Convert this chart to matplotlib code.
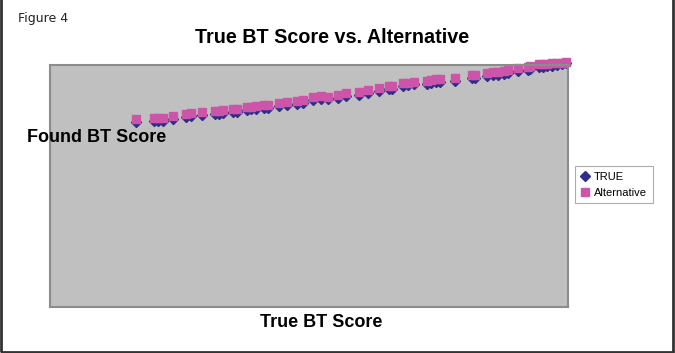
import matplotlib.pyplot as plt
from matplotlib.patches import Rectangle

# true BT score (x) and found score for both series
true_bt = [16.6, 20.1, 20.8, 21.8, 23.7, 26.3, 27.2, 29.3, 31.9, 32.6,
           33.4, 35.3, 36.1, 38.0, 38.8, 39.8, 41.3, 42.1, 44.2, 45.8,
           47.7, 48.8, 50.8, 52.3, 53.7, 55.6, 57.1, 59.7, 61.4, 63.5,
           65.4, 66.0, 68.1, 69.1, 70.3, 72.8, 73.6, 74.5, 75.3, 78.2,
           81.5, 82.0, 84.4, 85.5, 86.5, 87.6, 88.4, 90.3, 92.3, 92.7,
           94.4, 95.2, 95.9, 96.9, 97.9, 98.8, 99.6]
found_true = [76.4, 76.9, 76.8, 76.9, 77.6, 78.6, 79.0, 79.4, 79.8, 79.7,
              80.2, 80.6, 80.5, 81.4, 81.9, 81.9, 82.3, 82.2, 83.1, 83.5,
              83.9, 84.3, 85.6, 86.0, 85.8, 86.4, 87.2, 87.6, 88.5, 89.3,
              90.1, 90.0, 91.4, 91.8, 92.2, 92.2, 92.6, 93.0, 93.0, 93.4,
              94.7, 94.6, 95.5, 95.9, 95.8, 96.3, 96.7, 97.6, 98.0, 98.4,
              99.2, 99.2, 99.6, 99.6, 99.9, 100.2, 100.6]
found_alt = [77.7, 78.1, 78.1, 78.1, 78.9, 79.8, 80.2, 80.6, 81.0, 81.0,
             81.4, 81.8, 81.8, 82.6, 82.6, 83.1, 83.5, 83.5, 84.3, 84.7,
             85.1, 85.5, 86.8, 87.2, 86.8, 87.6, 88.4, 88.8, 89.7, 90.5,
             91.3, 91.3, 92.6, 92.6, 93.0, 93.4, 93.8, 94.2, 94.2, 94.6,
             95.9, 95.9, 96.7, 97.1, 97.1, 97.5, 97.9, 98.8, 99.2, 99.6,
             100.4, 100.4, 100.4, 100.8, 100.8, 100.8, 101.2]

fig = plt.figure(figsize=(6.75, 3.53), dpi=100)
fig.patch.set_facecolor('white')
fig.patches.append(Rectangle((0.002, 0.004), 0.995, 1.2, transform=fig.transFigure,
                             fill=False, edgecolor='#333333', linewidth=2))

ax = fig.add_axes([0.074, 0.130, 0.7674, 0.686])
ax.set_facecolor('#C0C0C0')
for s in ax.spines.values():
    s.set_color('#8C8C8C')
    s.set_linewidth(1.5)
ax.set_xlim(0, 100)
ax.set_ylim(0, 100)
ax.set_xticks([])
ax.set_yticks([])

ax.plot(true_bt, found_true, linestyle='none', marker='D', markersize=4.6,
        color='#2E2E8A', label='TRUE', clip_on=False)
ax.plot(true_bt, found_alt, linestyle='none', marker='s', markersize=5.5,
        color='#CC55AA', label='Alternative', clip_on=False)

fig.text(0.492, 0.895, 'True BT Score vs. Alternative', ha='center', va='center',
         fontsize=14.2, fontweight='bold', family='Liberation Sans')
fig.text(0.04, 0.61, 'Found BT Score', ha='left', va='center',
         fontsize=13, fontweight='bold', family='Liberation Sans')
fig.text(0.476, 0.085, 'True BT Score', ha='center', va='center',
         fontsize=13, fontweight='bold', family='Liberation Sans')
fig.text(0.027, 0.948, 'Figure 4', ha='left', va='center', fontsize=9,
         color='#222222', family='DejaVu Sans')

leg = ax.legend(loc='center left', bbox_to_anchor=(1.014, 0.505), frameon=True,
                fancybox=False, prop={'family': 'Liberation Sans', 'size': 8},
                handlelength=0.8, handletextpad=0.4, borderpad=0.5,
                labelspacing=0.5, borderaxespad=0)
leg.get_frame().set_edgecolor('#999999')
leg.get_frame().set_linewidth(0.8)

fig.savefig('out.png', dpi=100)
